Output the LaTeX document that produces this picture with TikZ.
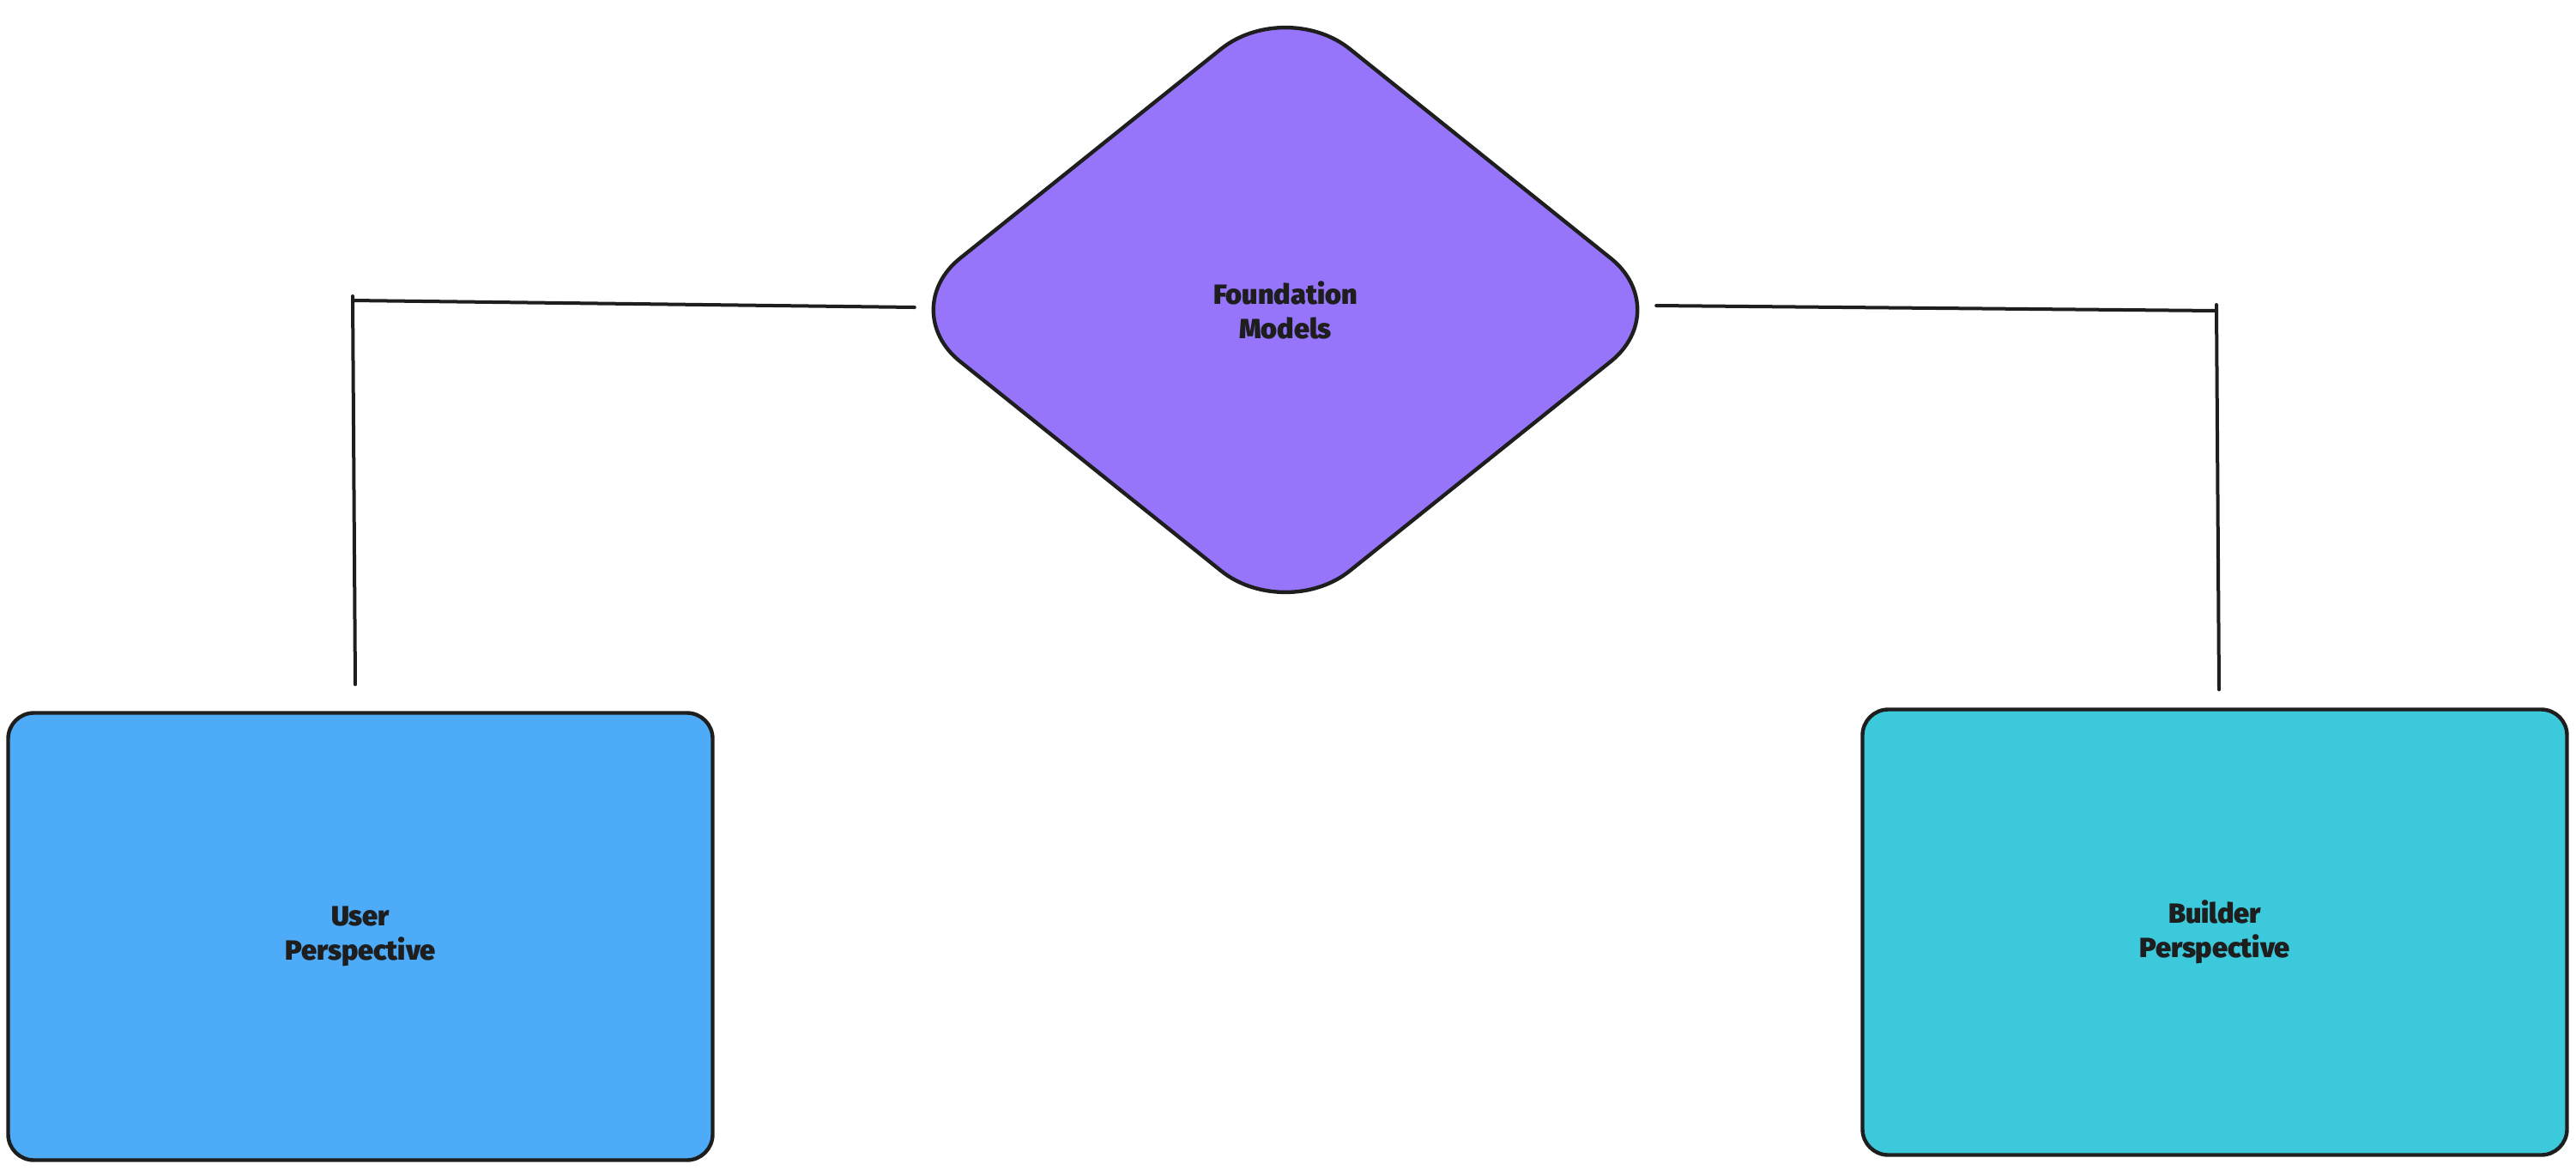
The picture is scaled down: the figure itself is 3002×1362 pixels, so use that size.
\documentclass[tikz,border=0pt]{standalone}
\usepackage{fontspec}
\setmainfont{Fira Sans}[BoldFont={Fira Sans Black}]
\usetikzlibrary{shapes.geometric,calc}
\definecolor{ink}{HTML}{1E1E1E}
\definecolor{violetfill}{HTML}{9775FA}
\definecolor{bluefill}{HTML}{4DABF7}
\definecolor{cyanfill}{HTML}{3BC9DB}
\tikzset{
  shapeline/.style={draw=ink, line width=1.1pt, line join=round},
  label text/.style={text=ink, font=\bfseries\fontsize{8.1}{10}\selectfont, align=center},
  persbox/.style={shapeline, label text, rectangle, rounded corners=7.5pt, inner sep=0pt},
  fmdiamond/.style={shapeline, label text, diamond, rounded corners=24pt, inner sep=0pt},
  conn/.style={draw=ink, line width=1pt, line cap=round, line join=round}
}
\begin{document}
\begin{tikzpicture}[x=0.25pt, y=-0.25pt]
  \useasboundingbox (0,0) rectangle (3002,1362);
  \node[fmdiamond, fill=violetfill, minimum width=227.5pt, minimum height=182.5pt, aspect=1.247] (fm) at (1498,361) {Foundation\\Models};
  \node[persbox, fill=bluefill, minimum width=205.25pt, minimum height=130.25pt] (user) at (420,1091) {User\\Perspective};
  \node[persbox, fill=cyanfill, minimum width=205.25pt, minimum height=129.75pt] (builder) at (2581,1086) {Builder\\Perspective};
  \coordinate (lc) at (411,350);
  \coordinate (lcu) at (411,345);
  \coordinate (rc) at (2583,362);
  \coordinate (rcu) at (2583,355);
  \draw[conn] ([xshift=6.25pt,yshift=0.75pt]fm.west) -- (lc) (lcu) -- ([xshift=-1.5pt,yshift=7.75pt]user.north);
  \draw[conn] ([xshift=-6.25pt,yshift=1.25pt]fm.east) -- (rc) (rcu) -- ([xshift=1.25pt,yshift=5.25pt]builder.north);
\end{tikzpicture}
\end{document}
